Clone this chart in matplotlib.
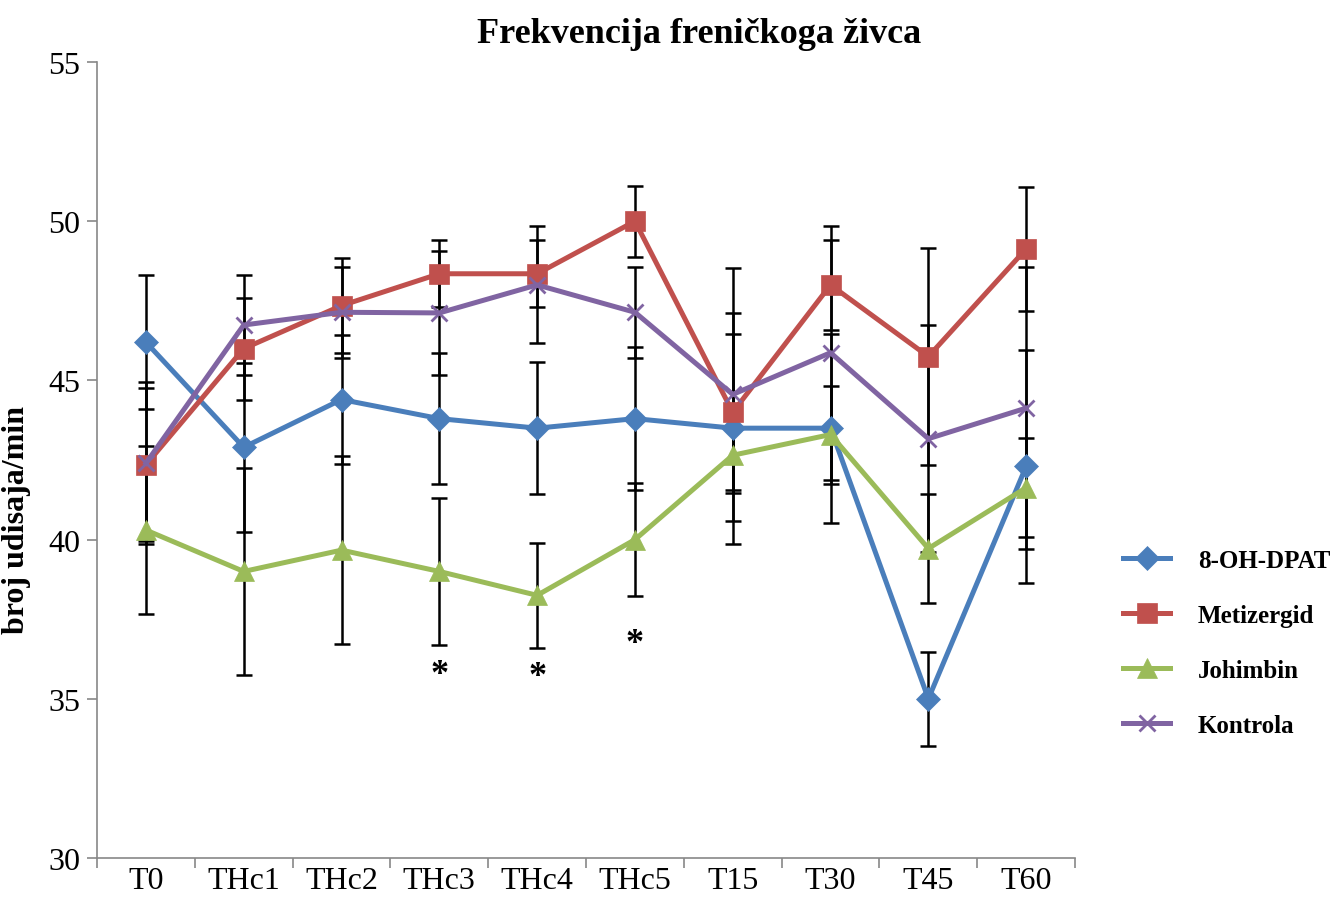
import numpy as np
import matplotlib
matplotlib.use("Agg")
from matplotlib import pyplot as plt

categories = ["T0", "THc1", "THc2", "THc3", "THc4", "THc5", "T15", "T30", "T45", "T60"]

dpat = [46.2, 42.9, 44.4, 43.8, 43.5, 43.8, 43.5, 43.5, 35.0, 42.3]
dpat_err = [2.1, 2.65, 2.03, 2.05, 2.08, 2.25, 3.63, 2.97, 1.47, 3.67]

metizergid = [42.35, 46.0, 47.35, 48.35, 48.35, 50.0, 44.0, 48.0, 45.75, 49.13]
metizergid_err = [2.4, 1.6, 1.5, 1.05, 1.05, 1.12, 2.45, 1.41, 3.41, 1.96]

johimbin = [40.3, 39.0, 39.67, 39.0, 38.25, 40.0, 42.65, 43.3, 39.72, 41.63]
johimbin_err = [2.65, 3.24, 2.95, 2.3, 1.65, 1.78, 1.2, 1.54, 1.7, 1.55]

kontrola = [42.4, 46.74, 47.14, 47.12, 48.0, 47.14, 44.56, 45.87, 43.17, 44.13]
kontrola_err = [2.55, 1.57, 1.43, 1.95, 1.84, 1.43, 3.96, 3.99, 3.57, 4.43]

# significance marks (category index, y position)
star_idx = [3, 4, 5]
star_y = [35.75, 35.7, 36.75]

series = [
    ("8-OH-DPAT", dpat, dpat_err, "#4A7EBB", "D", 12),
    ("Metizergid", metizergid, metizergid_err, "#C0504D", "s", 14),
    ("Johimbin", johimbin, johimbin_err, "#9BBB59", "^", 14),
    ("Kontrola", kontrola, kontrola_err, "#8064A2", "x", 12),
]

plt.rcParams["font.family"] = ["Liberation Serif", "DejaVu Serif"]

fig = plt.figure(figsize=(13.31, 9.12), dpi=100)
ax = fig.add_axes([0.0729, 0.0581, 0.7348, 0.8728])

x = np.arange(len(categories))
for name, vals, err, color, marker, ms in series:
    ax.errorbar(x, vals, yerr=err, fmt="none", ecolor="black", elinewidth=1.8,
                capsize=6, capthick=1.8, zorder=2)
for name, vals, err, color, marker, ms in series:
    ax.plot(x, vals, color=color, lw=3.6, marker=marker, markersize=ms,
            markeredgewidth=2 if marker == "x" else 0.5, markeredgecolor=color,
            label=name, zorder=3)

for i, yv in zip(star_idx, star_y):
    ax.text(i, yv, "*", ha="center", va="center", fontsize=26, fontweight="bold")

ax.set_xlim(-0.5, len(categories) - 0.5)
ax.set_ylim(30, 55)
ax.set_yticks([30, 35, 40, 45, 50, 55])
ax.set_xticks(x)
ax.set_xticklabels(categories)
ax.set_xticks(np.arange(-0.5, len(categories), 1), minor=True)
ax.tick_params(axis="x", which="major", length=0, labelsize=23, pad=6)
ax.tick_params(axis="x", which="minor", length=7, color="#888888", width=1.2)
ax.tick_params(axis="y", length=7, color="#888888", width=1.2, labelsize=23, pad=5)

for side in ["top", "right"]:
    ax.spines[side].set_visible(False)
for side in ["left", "bottom"]:
    ax.spines[side].set_color("#888888")
    ax.spines[side].set_linewidth(1.2)

fig.text(0.525, 0.962, "Frekvencija freničkoga živca", fontsize=26, fontweight="bold",
         ha="center", va="center")
ax.set_ylabel("broj udisaja/min", fontsize=23, fontweight="bold")
ax.yaxis.set_label_coords(-0.068, 0.426)

ax.legend(loc="center left", bbox_to_anchor=(1.036, 0.27), frameon=False,
          prop={"weight": "bold", "size": 18}, handlelength=1.9,
          handletextpad=1.1, labelspacing=1.28, borderpad=0)

fig.savefig("out.png", dpi=100)
